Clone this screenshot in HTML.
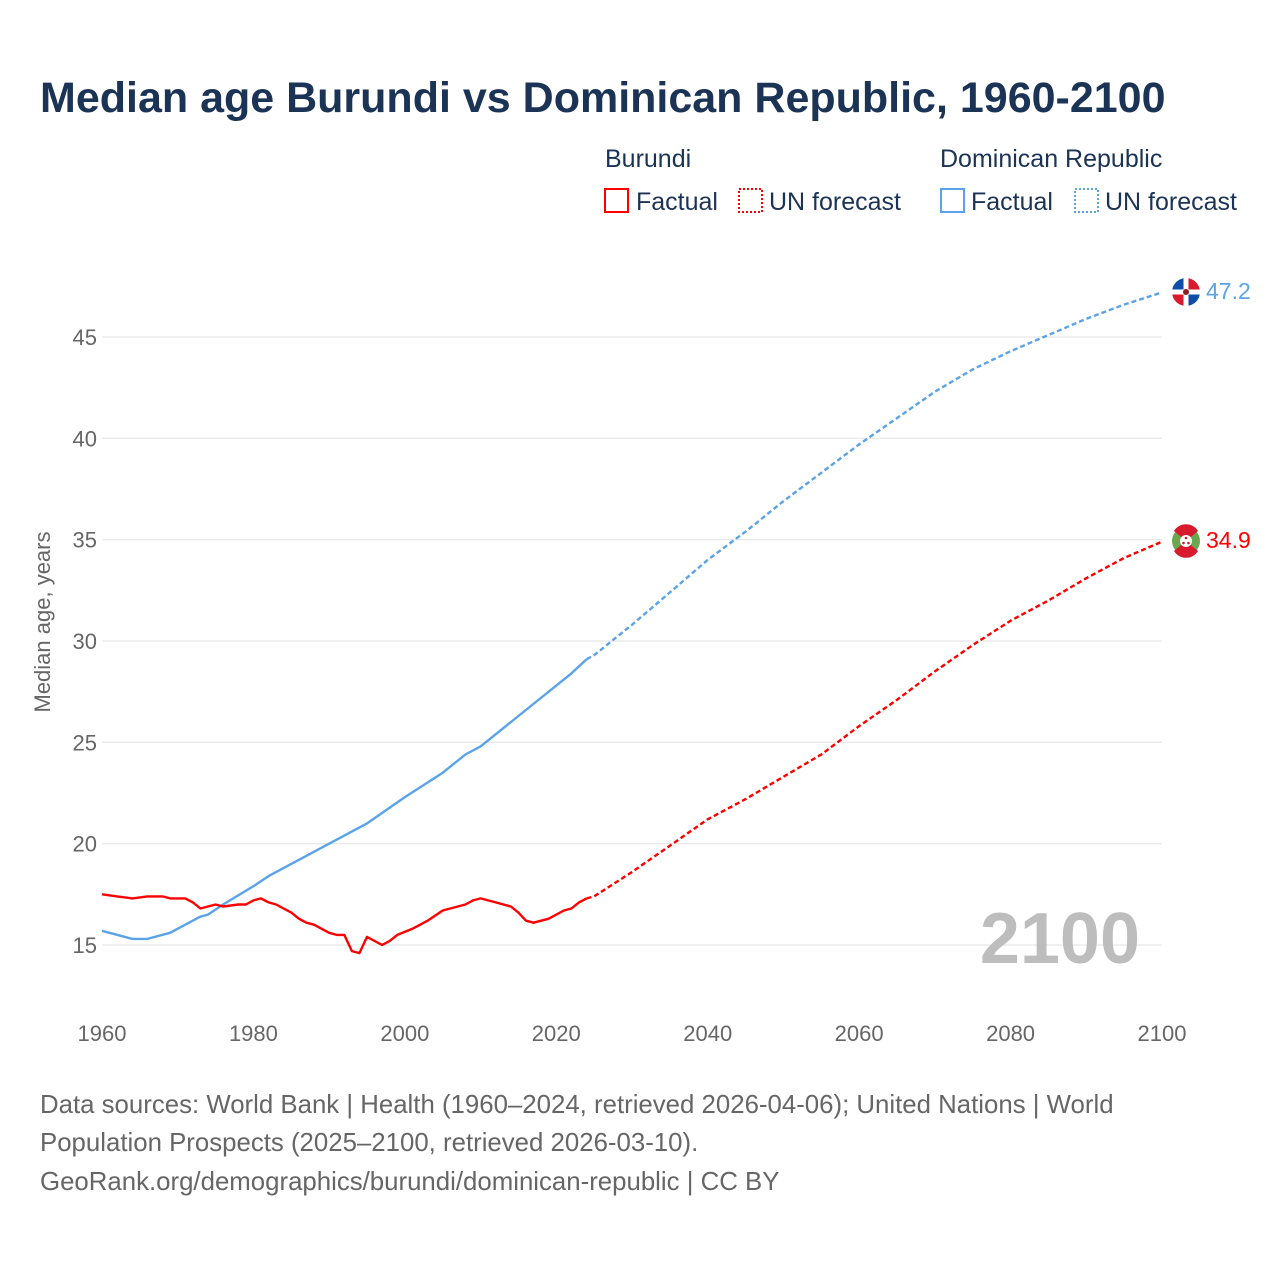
<!DOCTYPE html>
<html><head><meta charset="utf-8"><style>
body{margin:0;background:#fff;font-family:"Liberation Sans",sans-serif}
svg text{font-family:"Liberation Sans",sans-serif}
</style></head><body>
<svg width="1280" height="1280" xmlns="http://www.w3.org/2000/svg">
<rect width="1280" height="1280" fill="#fff"/>
<text x="40" y="112" font-size="43" font-weight="bold" fill="#1b3355">Median age Burundi vs Dominican Republic, 1960-2100</text>
<g font-size="25">
<text x="605" y="167" fill="#1b3355">Burundi</text>
<rect x="605" y="189" width="23" height="23" fill="none" stroke="#ff0000" stroke-width="2"/>
<text x="636" y="210" fill="#1b3355">Factual</text>
<rect x="739" y="189" width="23" height="23" fill="none" stroke="#ff0000" stroke-width="2" stroke-dasharray="2 2"/>
<text x="769" y="210" fill="#1b3355">UN forecast</text>
<text x="940" y="167" fill="#1b3355">Dominican Republic</text>
<rect x="941" y="189" width="23" height="23" fill="none" stroke="#5ba3e8" stroke-width="2"/>
<text x="971" y="210" fill="#1b3355">Factual</text>
<rect x="1075" y="189" width="23" height="23" fill="none" stroke="#5ba3e8" stroke-width="2" stroke-dasharray="2 2"/>
<text x="1105" y="210" fill="#1b3355">UN forecast</text>
</g>
<g id="grid"></g>
<g id="xt"></g>
<text x="1140" y="963" text-anchor="end" font-size="72" font-weight="bold" fill="#bdbdbd">2100</text>
<text transform="translate(50,622) rotate(-90)" text-anchor="middle" font-size="22" fill="#666">Median age, years</text>
<g id="series"></g>
<g>
<circle cx="1186" cy="292" r="14" fill="#fff"/>
<path d="M1186 292 L1186 278 A14 14 0 0 0 1172 292 Z" fill="#0d4fa8"/>
<path d="M1186 292 L1200 292 A14 14 0 0 0 1186 278 Z" fill="#d8192e"/>
<path d="M1186 292 L1172 292 A14 14 0 0 0 1186 306 Z" fill="#d8192e"/>
<path d="M1186 292 L1186 306 A14 14 0 0 0 1200 292 Z" fill="#0d4fa8"/>
<rect x="1172" y="289.5" width="28" height="5" fill="#fff"/><rect x="1183.5" y="278" width="5" height="28" fill="#fff"/>
<circle cx="1186" cy="292" r="3" fill="#8a2020"/>
</g>
<text x="1206" y="299" font-size="23" fill="#5ba3e8">47.2</text>
<g>
<circle cx="1186" cy="541" r="14" fill="#6aa84f"/>
<path d="M1174 531 L1186 541 L1198 531 A14 14 0 0 0 1174 531Z" fill="#d8192e"/>
<path d="M1174 551 L1186 541 L1198 551 A14 14 0 0 1 1174 551Z" fill="#d8192e"/>
<circle cx="1186" cy="541" r="6" fill="#fff"/>
<circle cx="1186" cy="538" r="1.3" fill="#d8192e"/><circle cx="1183.5" cy="543" r="1.3" fill="#d8192e"/><circle cx="1188.5" cy="543" r="1.3" fill="#d8192e"/>
</g>
<text x="1206" y="548" font-size="23" fill="#ff0000">34.9</text>
<g font-size="25.8" fill="#666">
<text x="40" y="1113">Data sources: World Bank | Health (1960–2024, retrieved 2026-04-06); United Nations | World</text>
<text x="40" y="1151">Population Prospects (2025–2100, retrieved 2026-03-10).</text>
<text x="40" y="1190">GeoRank.org/demographics/burundi/dominican-republic | CC BY</text>
</g>
</svg>
<script>
const yTicks=[15,20,25,30,35,40,45];
const xTicks=[1960,1980,2000,2020,2040,2060,2080,2100];
const burYearsF=[1960,1962,1964,1966,1968,1969,1971,1972,1973,1975,1976,1978,1979,1980,1981,1982,1983,1985,1986,1987,1988,1990,1991,1992,1993,1994,1995,1997,1998,1999,2001,2003,2005,2007,2008,2009,2010,2012,2014,2015,2016,2017,2019,2021,2022,2023,2024];
const burValsF=[17.5,17.4,17.3,17.4,17.4,17.3,17.3,17.1,16.8,17.0,16.9,17.0,17.0,17.2,17.3,17.1,17.0,16.6,16.3,16.1,16.0,15.6,15.5,15.5,14.7,14.6,15.4,15.0,15.2,15.5,15.8,16.2,16.7,16.9,17.0,17.2,17.3,17.1,16.9,16.6,16.2,16.1,16.3,16.7,16.8,17.1,17.3];
const burYearsP=[2024,2025,2030,2035,2040,2045,2050,2055,2060,2065,2070,2075,2080,2085,2090,2095,2100];
const burValsP=[17.3,17.4,18.6,19.9,21.2,22.2,23.3,24.4,25.8,27.1,28.5,29.8,31.0,32.0,33.1,34.1,34.9];
const domYearsF=[1960,1964,1966,1969,1973,1974,1976,1980,1982,1990,1995,2000,2005,2008,2010,2015,2020,2022,2024];
const domValsF=[15.7,15.3,15.3,15.6,16.4,16.5,17.0,17.9,18.4,20.0,21.0,22.3,23.5,24.4,24.8,26.3,27.8,28.4,29.1];
const domYearsP=[2024,2025,2030,2035,2040,2045,2050,2055,2060,2065,2070,2075,2080,2085,2090,2095,2100];
const domValsP=[29.1,29.3,30.8,32.4,34.0,35.4,36.9,38.3,39.7,41.0,42.3,43.4,44.3,45.1,45.9,46.6,47.2];
const X=y=>102+(y-1960)*(1060/140);
const Y=v=>945-(v-15)*(608/30);
const NS="http://www.w3.org/2000/svg";
const grid=document.getElementById('grid');
yTicks.forEach(t=>{
 const l=document.createElementNS(NS,'line');
 l.setAttribute('x1',102);l.setAttribute('x2',1162);l.setAttribute('y1',Y(t));l.setAttribute('y2',Y(t));
 l.setAttribute('stroke','#e6e6e6');l.setAttribute('stroke-width','1.2');
 
 
 grid.appendChild(l);
 const tx=document.createElementNS(NS,'text');
 tx.setAttribute('x',97);tx.setAttribute('y',Y(t)+8);tx.setAttribute('text-anchor','end');
 tx.setAttribute('font-size','22');tx.setAttribute('fill','#666');tx.textContent=t;
 
 
 grid.appendChild(tx);
});
const xt=document.getElementById('xt');
xTicks.forEach(t=>{
 const tx=document.createElementNS(NS,'text');
 tx.setAttribute('x',X(t));tx.setAttribute('y',1041);tx.setAttribute('text-anchor','middle');
 tx.setAttribute('font-size','22');tx.setAttribute('fill','#666');tx.textContent=t;
 
 
 xt.appendChild(tx);
});
const sg=document.getElementById('series');
function line(xs,vs,color,dash,name){
 const p=document.createElementNS(NS,'polyline');
 p.setAttribute('points',xs.map((y,i)=>X(y).toFixed(1)+','+Y(vs[i]).toFixed(1)).join(' '));
 p.setAttribute('fill','none');p.setAttribute('stroke',color);p.setAttribute('stroke-width','2.4');
 p.setAttribute('stroke-linejoin','round');
 if(dash)p.setAttribute('stroke-dasharray','5 3');
 
 
 sg.appendChild(p);
}
line(domYearsF,domValsF,'#5ba3e8',false,'dominican-factual-line');
line(domYearsP,domValsP,'#5ba3e8',true,'dominican-forecast-line');
line(burYearsF,burValsF,'#ff0000',false,'burundi-factual-line');
line(burYearsP,burValsP,'#ff0000',true,'burundi-forecast-line');
</script>
</body></html>
